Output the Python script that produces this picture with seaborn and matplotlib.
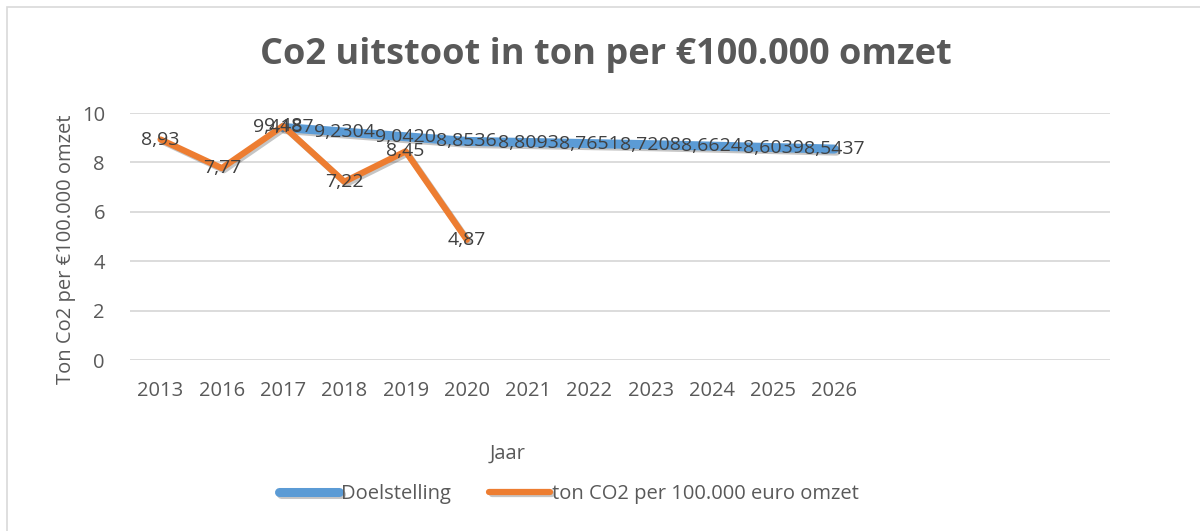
import seaborn as sns
import matplotlib.pyplot as plt
import matplotlib.patheffects as pe
import pandas as pd

# categorie-as (Excel laat 4 lege plekken aan de rechterkant)
jaren = ["2013", "2016", "2017", "2018", "2019", "2020", "2021",
         "2022", "2023", "2024", "2025", "2026"]
n_slots = 16

# Doelstelling vanaf 2017
doel_jaren = ["2017", "2018", "2019", "2020", "2021", "2022",
              "2023", "2024", "2025", "2026"]
doel = [9.4187, 9.2304, 9.0420, 8.8536, 8.8093, 8.7651,
        8.7208, 8.6624, 8.6039, 8.5437]

# werkelijke uitstoot
werk_jaren = ["2013", "2016", "2017", "2018", "2019", "2020"]
werkelijk = [8.93, 7.77, 9.48, 7.22, 8.45, 4.87]

blauw = "#5B9BD5"
oranje = "#ED7D31"
grijs = "#595959"

sns.set_theme(style="white")
plt.rcParams['font.family'] = ['Open Sans', 'DejaVu Sans']

pos = {j: i for i, j in enumerate(jaren)}
df_doel = pd.DataFrame({"x": [pos[j] for j in doel_jaren], "y": doel})
df_werk = pd.DataFrame({"x": [pos[j] for j in werk_jaren], "y": werkelijk})

fig = plt.figure(figsize=(12, 5.31), dpi=100)
ax = fig.add_axes([0.1083, 0.322, 0.8167, 0.465])

schaduw = [pe.SimpleLineShadow(offset=(1.5, -1.5), alpha=0.25), pe.Normal()]
sns.lineplot(data=df_doel, x="x", y="y", ax=ax, color=blauw, linewidth=6.5,
             label="Doelstelling", path_effects=schaduw,
             solid_capstyle="round")
sns.lineplot(data=df_werk, x="x", y="y", ax=ax, color=oranje, linewidth=4.5,
             label="ton CO2 per 100.000 euro omzet", path_effects=schaduw,
             solid_capstyle="round")

# datalabels
for x, y in zip(df_doel["x"], df_doel["y"]):
    ax.text(x, y, f"{y:.4f}".replace(".", ","), ha="center", va="center",
            fontsize=14, color="#404040")
for x, y in zip(df_werk["x"], df_werk["y"]):
    ax.text(x, y, f"{y:.2f}".replace(".", ","), ha="center", va="center",
            fontsize=14, color="#404040")

ax.set_xlim(-0.5, n_slots - 0.5)
ax.set_ylim(0, 10)
ax.set_xticks(range(len(jaren)))
ax.set_xticklabels(jaren)
ax.set_yticks([0, 2, 4, 6, 8, 10])
ax.tick_params(axis="both", colors=grijs, labelsize=14.5, length=0)
ax.tick_params(axis="x", pad=15)
ax.tick_params(axis="y", pad=18)
ax.grid(axis="y", color="#D9D9D9", linewidth=1.3)
ax.set_axisbelow(True)
for s in ax.spines.values():
    s.set_visible(False)

ax.set_xlabel("Jaar", fontsize=14.5, color=grijs)
ax.xaxis.set_label_coords(0.385, -0.34)
ax.set_ylabel("Ton Co2 per €100.000 omzet", fontsize=14.5, color=grijs)
ax.yaxis.set_label_coords(-0.055, 0.45)

fig.text(0.505, 0.897, "Co2 uitstoot in ton per €100.000 omzet", ha="center",
         va="center", fontsize=26, fontweight="bold", color=grijs)

handles, labels = ax.get_legend_handles_labels()
ax.get_legend().remove()
fig.legend(handles, labels, loc="center", bbox_to_anchor=(0.474, 0.07), ncol=2,
           frameon=False, fontsize=14.5, labelcolor=grijs, handlelength=3.0,
           handletextpad=0.1, columnspacing=1.9)

# kader van het Excel-diagram
fig.add_artist(plt.Rectangle((0.006, -0.01), 1.0, 0.997, transform=fig.transFigure,
                             fill=False, edgecolor="#D9D9D9", linewidth=1.2))

fig.savefig("out.png", dpi=100)
